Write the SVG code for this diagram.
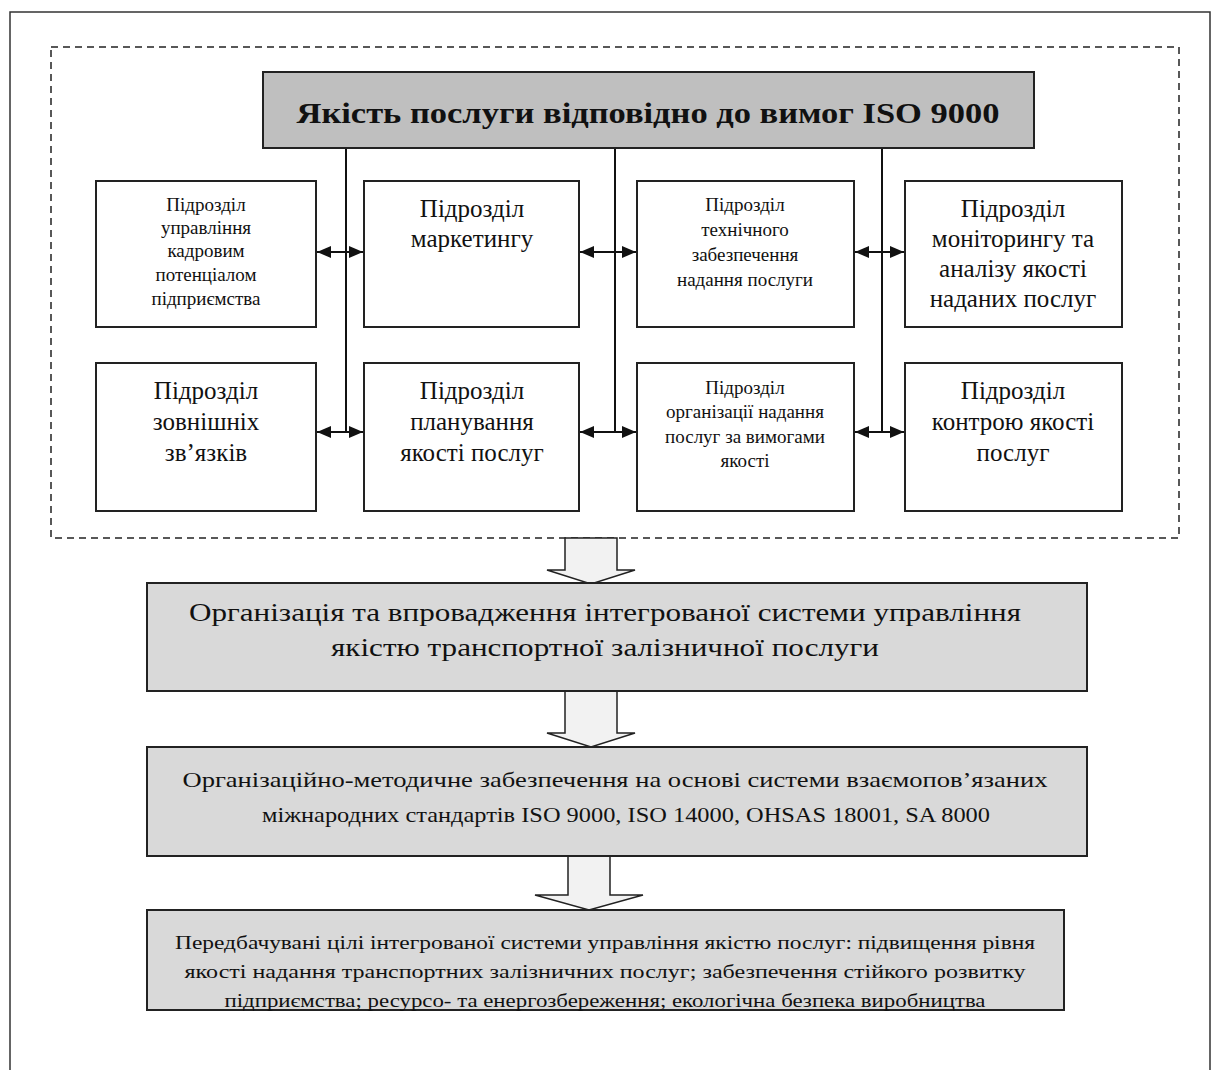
<svg xmlns="http://www.w3.org/2000/svg" width="1223" height="1070" viewBox="0 0 1223 1070">
  <style>
    .frame { fill: none; stroke: #333; stroke-width: 1.5; }
    .dash { fill: none; stroke: #222; stroke-width: 1.5; stroke-dasharray: 7 5; }
    .unit { fill: #fff; stroke: #222; stroke-width: 2; }
    .head { fill: #bfbfbf; stroke: #222; stroke-width: 2; }
    .stage { fill: #d9d9d9; stroke: #222; stroke-width: 2; }
    .flow { fill: #f2f2f2; stroke: #222; stroke-width: 1.5; }
    .link { stroke: #111; stroke-width: 2; fill: none; }
    text { font-family: "Liberation Serif", "Times New Roman", serif; fill: #111; text-anchor: middle; }
    .title { font-size: 30px; font-weight: bold; }
    .big { font-size: 25px; }
    .small { font-size: 19px; }
    .s1 { font-size: 26px; }
    .s2 { font-size: 22px; }
    .s3 { font-size: 19px; }
  </style>
  <defs>
    <marker id="tip" viewBox="0 0 14 12" refX="14" refY="6" markerWidth="14" markerHeight="12" markerUnits="userSpaceOnUse" orient="auto-start-reverse">
      <path d="M0,0 L14,6 L0,12 Z" fill="#111"/>
    </marker>
  </defs>

  <!-- page frame (open at the bottom) -->
  <path class="frame" d="M10,1070 V12 H1210 V1070"/>
  <!-- dashed boundary of the service-quality block -->
  <rect class="dash" x="51" y="47" width="1128" height="491"/>

  <!-- connectors -->
  <g id="connectors">
    <line class="link" x1="346" y1="148" x2="346" y2="432"/>
    <line class="link" x1="615" y1="148" x2="615" y2="432"/>
    <line class="link" x1="882" y1="148" x2="882" y2="432"/>
    <line class="link" x1="317" y1="252" x2="363" y2="252" marker-start="url(#tip)" marker-end="url(#tip)"/>
    <line class="link" x1="580" y1="252" x2="636" y2="252" marker-start="url(#tip)" marker-end="url(#tip)"/>
    <line class="link" x1="855" y1="252" x2="904" y2="252" marker-start="url(#tip)" marker-end="url(#tip)"/>
    <line class="link" x1="317" y1="432" x2="363" y2="432" marker-start="url(#tip)" marker-end="url(#tip)"/>
    <line class="link" x1="580" y1="432" x2="636" y2="432" marker-start="url(#tip)" marker-end="url(#tip)"/>
    <line class="link" x1="855" y1="432" x2="904" y2="432" marker-start="url(#tip)" marker-end="url(#tip)"/>
    <!-- block arrows between stages -->
    <polygon class="flow" points="565,538 617,538 617,570 635,570 591,584 547,570 565,570"/>
    <polygon class="flow" points="565,691 617,691 617,733 635,733 591,747 547,733 565,733"/>
    <polygon class="flow" points="568,856 610,856 610,895 643,895 589,910 535,895 568,895"/>
  </g>

  <g id="quality-iso">
    <rect class="head" x="263" y="72" width="771" height="76"/>
    <text class="title" x="648" y="123" textLength="703" lengthAdjust="spacingAndGlyphs">Якість послуги відповідно до вимог ISO 9000</text>
  </g>

  <g id="unit-hr">
    <rect class="unit" x="96" y="181" width="220" height="146"/>
    <text class="small" x="206" y="211">Підрозділ</text>
    <text class="small" x="206" y="234">управління</text>
    <text class="small" x="206" y="257">кадровим</text>
    <text class="small" x="206" y="281">потенціалом</text>
    <text class="small" x="206" y="305">підприємства</text>
  </g>
  <g id="unit-marketing">
    <rect class="unit" x="364" y="181" width="215" height="146"/>
    <text class="big" x="472" y="217">Підрозділ</text>
    <text class="big" x="472" y="247">маркетингу</text>
  </g>
  <g id="unit-technical">
    <rect class="unit" x="637" y="181" width="217" height="146"/>
    <text class="small" x="745" y="211">Підрозділ</text>
    <text class="small" x="745" y="236">технічного</text>
    <text class="small" x="745" y="261">забезпечення</text>
    <text class="small" x="745" y="286">надання послуги</text>
  </g>
  <g id="unit-monitoring">
    <rect class="unit" x="905" y="181" width="217" height="146"/>
    <text class="big" x="1013" y="217">Підрозділ</text>
    <text class="big" x="1013" y="247">моніторингу та</text>
    <text class="big" x="1013" y="277">аналізу  якості</text>
    <text class="big" x="1013" y="307">наданих послуг</text>
  </g>

  <g id="unit-external">
    <rect class="unit" x="96" y="363" width="220" height="148"/>
    <text class="big" x="206" y="399">Підрозділ</text>
    <text class="big" x="206" y="430">зовнішніх</text>
    <text class="big" x="206" y="461">зв’язків</text>
  </g>
  <g id="unit-planning">
    <rect class="unit" x="364" y="363" width="215" height="148"/>
    <text class="big" x="472" y="399">Підрозділ</text>
    <text class="big" x="472" y="430">планування</text>
    <text class="big" x="472" y="461">якості послуг</text>
  </g>
  <g id="unit-delivery">
    <rect class="unit" x="637" y="363" width="217" height="148"/>
    <text class="small" x="745" y="394">Підрозділ</text>
    <text class="small" x="745" y="418">організації надання</text>
    <text class="small" x="745" y="443">послуг за вимогами</text>
    <text class="small" x="745" y="467">якості</text>
  </g>
  <g id="unit-control">
    <rect class="unit" x="905" y="363" width="217" height="148"/>
    <text class="big" x="1013" y="399">Підрозділ</text>
    <text class="big" x="1013" y="430">контрою якості</text>
    <text class="big" x="1013" y="461">послуг</text>
  </g>

  <g id="stage-ims">
    <rect class="stage" x="147" y="583" width="940" height="108"/>
    <text class="s1" x="605" y="621" textLength="832" lengthAdjust="spacingAndGlyphs">Організація та впровадження інтегрованої системи управління</text>
    <text class="s1" x="605" y="656" textLength="548" lengthAdjust="spacingAndGlyphs">якістю транспортної залізничної послуги</text>
  </g>
  <g id="stage-methods">
    <rect class="stage" x="147" y="747" width="940" height="109"/>
    <text class="s2" x="615" y="787" textLength="865" lengthAdjust="spacingAndGlyphs">Організаційно-методичне забезпечення на основі системи взаємопов’язаних</text>
    <text class="s2" x="626" y="822" textLength="728" lengthAdjust="spacingAndGlyphs">міжнародних стандартів ISO 9000, ISO 14000, OHSAS 18001, SA 8000</text>
  </g>
  <g id="stage-goals">
    <rect class="stage" x="147" y="910" width="917" height="100"/>
    <text class="s3" x="605" y="949" textLength="860" lengthAdjust="spacingAndGlyphs">Передбачувані цілі інтегрованої системи управління якістю послуг: підвищення рівня</text>
    <text class="s3" x="605" y="978" textLength="841" lengthAdjust="spacingAndGlyphs">якості надання транспортних залізничних послуг; забезпечення стійкого розвитку</text>
    <text class="s3" x="605" y="1007" textLength="761" lengthAdjust="spacingAndGlyphs">підприємства; ресурсо- та енергозбереження; екологічна безпека виробництва</text>
  </g>
</svg>
